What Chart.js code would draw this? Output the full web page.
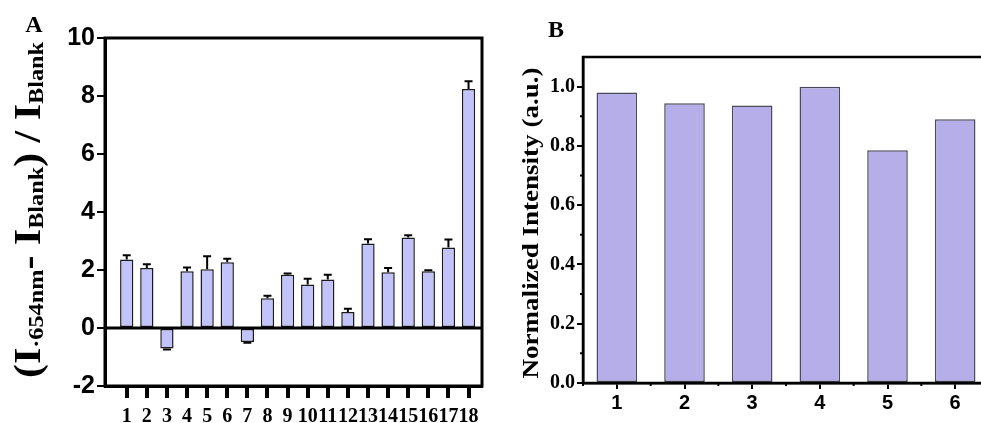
<!DOCTYPE html>
<html>
<head>
<meta charset="utf-8">
<script src="https://cdn.jsdelivr.net/npm/chart.js@4"></script>
<style>
  html, body { margin: 0; padding: 0; background: #fff; overflow: hidden; width: 981px; height: 423px; }
  canvas { position: absolute; top: 0; }
  #chartA { left: 0; }
  #chartB { left: 500px; }
</style>
</head>
<body>
<canvas id="chartA" width="500" height="423"></canvas>
<canvas id="chartB" width="500" height="423"></canvas>
<script>
// panel A data
var labelsA = ['1','2','3','4','5','6','7','8','9','10','11','12','13','14','15','16','17','18'];
var valuesA = [2.36, 2.07, -0.71, 1.96, 2.03, 2.27, -0.48, 1.03, 1.84, 1.50, 1.67, 0.55, 2.91, 1.92, 3.12, 1.96, 2.78, 8.24];
var errorsA = [0.15, 0.13, 0.03, 0.13, 0.44, 0.12, 0.03, 0.08, 0.04, 0.20, 0.17, 0.11, 0.15, 0.15, 0.08, 0.03, 0.27, 0.27];
var yTicksA = [-2, 0, 2, 4, 6, 8, 10];

// panel B data
var labelsB = ['1','2','3','4','5','6'];
var valuesB = [0.98, 0.944, 0.936, 1.0, 0.785, 0.89];
var yTicksB = [0, 0.2, 0.4, 0.6, 0.8, 1.0];
var yMinorB = [0.1, 0.3, 0.5, 0.7, 0.9];

var serif = "'Liberation Serif', 'Times New Roman', serif";
var sans = "'Liberation Sans', Arial, sans-serif";

// rotated text made of pieces (for the subscripts), stretched to a length
function drawRotated(ctx, parts, bx, cy, len) {
  ctx.save();
  var total = 0;
  parts.forEach(function(p) {
    ctx.font = 'bold ' + p.size + 'px ' + serif;
    p.w = ctx.measureText(p.t).width;
    total += p.w;
  });
  ctx.translate(bx, cy);
  ctx.rotate(-Math.PI / 2);
  ctx.scale(len / total, 1);
  ctx.fillStyle = '#000';
  ctx.textBaseline = 'alphabetic';
  var x = -total / 2;
  parts.forEach(function(p) {
    ctx.font = 'bold ' + p.size + 'px ' + serif;
    ctx.fillText(p.t, x, p.dy);
    x += p.w;
  });
  ctx.restore();
}

var decorA = {
  id: 'decorA',
  afterDatasetsDraw: function(chart) {
    var ctx = chart.ctx, a = chart.chartArea;
    var ys = chart.scales.y;
    ctx.save();
    // zero line
    ctx.strokeStyle = '#000';
    ctx.lineWidth = 3;
    ctx.beginPath();
    ctx.moveTo(a.left, ys.getPixelForValue(0));
    ctx.lineTo(a.right, ys.getPixelForValue(0));
    ctx.stroke();
    // error bars
    ctx.lineWidth = 2;
    chart.getDatasetMeta(0).data.forEach(function(bar, i) {
      var v = valuesA[i], sgn = v < 0 ? -1 : 1;
      var y0 = ys.getPixelForValue(v), y1 = ys.getPixelForValue(v + sgn * errorsA[i]);
      ctx.beginPath();
      ctx.moveTo(bar.x, y0);
      ctx.lineTo(bar.x, y1);
      ctx.moveTo(bar.x - 4, y1);
      ctx.lineTo(bar.x + 4, y1);
      ctx.stroke();
    });
    // frame
    ctx.lineWidth = 3;
    ctx.strokeRect(a.left, a.top, a.right - a.left, a.bottom - a.top);
    ctx.restore();
    drawRotated(ctx, [
      {t: '(I', size: 38, dy: 0},
      {t: '\u00b7654nm', size: 22, dy: 3},
      {t: '-', size: 38, dy: 0},
      {t: ' I', size: 38, dy: 0},
      {t: 'Blank', size: 22, dy: 3},
      {t: ')', size: 38, dy: 0},
      {t: ' / I', size: 38, dy: 0},
      {t: 'Blank', size: 22, dy: 3}
    ], 40, 210, 336);
    ctx.save();
    ctx.font = 'bold 24px ' + serif;
    ctx.fillStyle = '#000';
    ctx.textAlign = 'center';
    ctx.textBaseline = 'middle';
    ctx.fillText('A', 34, 26);
    ctx.restore();
  },
  afterDraw: function(chart) {
    // x ticks under the frame, one per bar
    var ctx = chart.ctx, a = chart.chartArea;
    ctx.save();
    ctx.fillStyle = '#000';
    chart.getDatasetMeta(0).data.forEach(function(bar) {
      ctx.fillRect(Math.round(bar.x) - 2, a.bottom, 4, 12);
    });
    ctx.restore();
  }
};

var decorB = {
  id: 'decorB',
  afterDatasetsDraw: function(chart) {
    var ctx = chart.ctx, a = chart.chartArea;
    var ys = chart.scales.y, xs = chart.scales.x;
    ctx.save();
    ctx.strokeStyle = '#000';
    ctx.lineWidth = 2;
    ctx.beginPath();
    yMinorB.forEach(function(v) {
      var y = ys.getPixelForValue(v);
      ctx.moveTo(a.left, y);
      ctx.lineTo(a.left - 3, y);
    });
    for (var i = 0; i <= labelsB.length; i++) {
      var x = xs.getPixelForValue(i - 0.5);
      ctx.moveTo(x, a.bottom);
      ctx.lineTo(x, a.bottom + 3);
    }
    ctx.stroke();
    ctx.lineWidth = 2.5;
    ctx.strokeRect(a.left, a.top, a.right - a.left, a.bottom - a.top);
    ctx.restore();
    drawRotated(ctx, [{t: 'Normalized Intensity (a.u.)', size: 24, dy: 0}], 38, 223, 311);
    ctx.save();
    ctx.font = 'bold 24px ' + serif;
    ctx.fillStyle = '#000';
    ctx.textAlign = 'center';
    ctx.textBaseline = 'middle';
    ctx.fillText('B', 56, 31);
    ctx.restore();
  }
};

new Chart(document.getElementById('chartA'), {
  type: 'bar',
  data: {
    datasets: [{
      data: valuesA.map(function(v, i) { return {x: i + 1, y: v}; }),
      backgroundColor: '#c3c3fb',
      borderColor: '#1a1a1a',
      borderWidth: 1.5,
      borderSkipped: false,
      categoryPercentage: 1,
      barPercentage: 0.66
    }]
  },
  options: {
    responsive: false,
    animation: false,
    layout: { padding: { left: 0, right: 18, top: 38, bottom: 0 } },
    plugins: { legend: { display: false }, tooltip: { enabled: false } },
    scales: {
      x: {
        type: 'linear',
        offset: false,
        min: -0.08,
        max: 18.67,
        afterBuildTicks: function(scale) {
          scale.ticks = labelsA.map(function(l, i) { return {value: i + 1}; });
        },
        afterFit: function(scale) { scale.height = 37; },
        ticks: {
          autoSkip: false,
          maxRotation: 0,
          color: '#000',
          padding: 11,
          font: { family: serif, size: 20, weight: 'bold' },
          callback: function(v) { return labelsA[v - 1]; }
        },
        grid: { display: false },
        border: { display: true, width: 3, color: '#000' }
      },
      y: {
        min: -2,
        max: 10,
        afterBuildTicks: function(scale) {
          scale.ticks = yTicksA.map(function(v) { return {value: v}; });
        },
        afterFit: function(scale) { scale.width = 105; },
        ticks: {
          color: '#000',
          padding: 2,
          font: { family: sans, size: 25, weight: 'bold' }
        },
        grid: { drawOnChartArea: false, tickLength: 8, lineWidth: 2, color: '#000' },
        border: { display: true, width: 3, color: '#000' }
      }
    }
  },
  plugins: [decorA]
});

new Chart(document.getElementById('chartB'), {
  type: 'bar',
  data: {
    labels: labelsB,
    datasets: [{
      data: valuesB,
      backgroundColor: '#b6aee9',
      borderColor: '#4a4a5a',
      borderWidth: 1.5,
      borderSkipped: false,
      categoryPercentage: 1,
      barPercentage: 0.6
    }]
  },
  options: {
    responsive: false,
    animation: false,
    layout: { padding: { left: 0, right: 11, top: 57, bottom: 0 } },
    plugins: { legend: { display: false }, tooltip: { enabled: false } },
    scales: {
      x: {
        offset: true,
        afterFit: function(scale) { scale.height = 40; },
        ticks: {
          color: '#000',
          padding: 2,
          font: { family: sans, size: 20, weight: 'bold' }
        },
        grid: { offset: false, drawOnChartArea: false, tickLength: 6, lineWidth: 2, color: '#000' },
        border: { display: true, width: 2.5, color: '#000' }
      },
      y: {
        min: 0,
        max: 1.1,
        afterBuildTicks: function(scale) {
          scale.ticks = yTicksB.map(function(v) { return {value: v}; });
        },
        afterFit: function(scale) { scale.width = 83; },
        ticks: {
          color: '#000',
          padding: 2,
          font: { family: serif, size: 20, weight: 'bold' },
          callback: function(v) { return v.toFixed(1); }
        },
        grid: { drawOnChartArea: false, tickLength: 6, lineWidth: 2, color: '#000' },
        border: { display: true, width: 2.5, color: '#000' }
      }
    }
  },
  plugins: [decorB]
});
</script>
</body>
</html>
